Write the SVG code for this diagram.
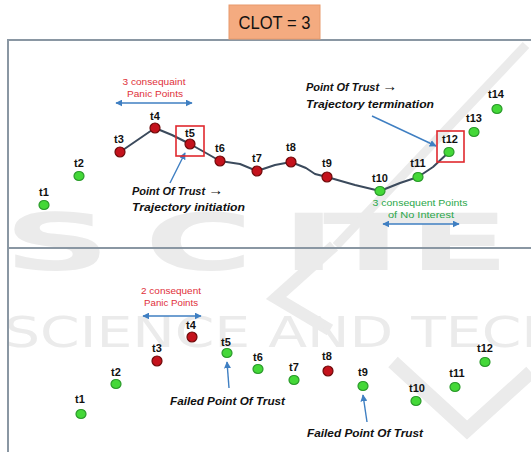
<svg xmlns="http://www.w3.org/2000/svg" width="531" height="452" viewBox="0 0 531 452">
<style>
.lbl{font-family:"Liberation Sans",Arial,sans-serif;font-weight:bold;font-size:11px;fill:#111;text-anchor:middle}
.g{fill:#44d838;stroke:#2a9a2a;stroke-width:1.2}
.r{fill:#c4121c;stroke:#6e0a0a;stroke-width:1.2}
.note{font-family:"Liberation Sans",Arial,sans-serif;font-weight:bold;font-style:italic;font-size:11px;fill:#111}
.arr{font-size:15px;font-style:normal}
.red{font-family:"Liberation Sans",Arial,sans-serif;font-size:9px;fill:#e0303a;text-anchor:middle}
.grn{font-family:"Liberation Sans",Arial,sans-serif;font-size:9px;fill:#2aa84a;text-anchor:middle}
.blue{stroke:#3f7fc2;stroke-width:1.4;fill:none}
.wm{fill:#ebebeb}
.wml{stroke:#ebebeb;fill:none;stroke-linecap:butt;stroke-linejoin:miter}
.frame{stroke:#8a97a3;stroke-width:2;fill:none}
.box{fill:none;stroke:#e0282e;stroke-width:1.6}
</style>
<defs>
<marker id="ah" viewBox="0 0 10 10" refX="9" refY="5" markerWidth="5" markerHeight="5" orient="auto-start-reverse">
<path d="M0,0 L10,5 L0,10 z" fill="#3f7fc2"/>
</marker>
</defs>
<rect width="531" height="452" fill="#ffffff"/>
<g id="watermark">
<text class="wm" transform="scale(1.9,1)" font-family="DejaVu Sans,sans-serif" font-weight="bold" font-size="78" y="270" x="2 76 148 170 215">SCITE</text>
<polyline class="wml" stroke-width="9" points="526,45 336,246"/>
<polyline class="wml" stroke-width="12" points="334,246 276,298 330,330"/>
<polyline class="wml" stroke-width="14" points="393,362 467,430 531,372"/>
<text class="wm" font-family="DejaVu Sans,sans-serif" font-size="42" x="4" y="347" textLength="560" lengthAdjust="spacingAndGlyphs">SCIENCE AND TECH</text>
</g>
<g id="frame">
<line class="frame" x1="8" y1="40" x2="531" y2="40"/>
<line class="frame" x1="8" y1="39" x2="8" y2="452"/>
<line class="frame" x1="8" y1="248" x2="531" y2="248"/>
</g>
<g id="clot">
<rect x="229" y="5" width="91" height="34" fill="#f4ab80" stroke="#e89a6c" stroke-width="1"/>
<text x="274.5" y="29" font-family="Liberation Sans,Arial,sans-serif" font-size="19" fill="#111" text-anchor="middle" textLength="72" lengthAdjust="spacingAndGlyphs">CLOT = 3</text>
</g>
<g id="connectors">
<polyline fill="none" stroke="#3b4a5c" stroke-width="2" stroke-linejoin="round" points="120,152 155,128 172,135 190,144 206,153 220,161 240,164 257,171 275,165 291,162 306,168 315,174 327,177 355,185 380,191 400,183 418,177 433,167 449,152"/>
<line class="blue" x1="116" y1="103" x2="192" y2="103" marker-start="url(#ah)" marker-end="url(#ah)"/>
<line class="blue" x1="383" y1="224" x2="459" y2="224" marker-start="url(#ah)" marker-end="url(#ah)"/>
<line class="blue" x1="143" y1="316" x2="201" y2="316" marker-start="url(#ah)" marker-end="url(#ah)"/>
<line class="blue" x1="170" y1="183" x2="185" y2="153" marker-end="url(#ah)"/>
<line class="blue" x1="372" y1="116" x2="436" y2="146" marker-end="url(#ah)"/>
<line class="blue" x1="229" y1="388" x2="227" y2="362" marker-end="url(#ah)"/>
<line class="blue" x1="367" y1="422" x2="363" y2="395" marker-end="url(#ah)"/>
</g>
<g id="annotations">
<text class="red" x="154" y="85" textLength="63" lengthAdjust="spacingAndGlyphs">3 consequaint</text>
<text class="red" x="155" y="97" textLength="56" lengthAdjust="spacingAndGlyphs">Panic Points</text>
<text class="note" x="132" y="195">Point Of Trust <tspan class="arr">→</tspan></text>
<text class="note" x="132" y="211" textLength="113" lengthAdjust="spacingAndGlyphs">Trajectory initiation</text>
<text class="note" x="306" y="91">Point Of Trust <tspan class="arr">→</tspan></text>
<text class="note" x="306" y="108" textLength="128" lengthAdjust="spacingAndGlyphs">Trajectory termination</text>
<text class="grn" x="420" y="206" textLength="95" lengthAdjust="spacingAndGlyphs">3 consequent Points</text>
<text class="grn" x="421" y="218" textLength="66" lengthAdjust="spacingAndGlyphs">of No Interest</text>
<text class="red" x="171" y="294" textLength="60" lengthAdjust="spacingAndGlyphs">2 consequent</text>
<text class="red" x="171" y="306" textLength="54" lengthAdjust="spacingAndGlyphs">Panic Points</text>
<text class="note" x="170" y="405" textLength="115" lengthAdjust="spacingAndGlyphs">Failed Point Of Trust</text>
<text class="note" x="307" y="437" textLength="116" lengthAdjust="spacingAndGlyphs">Failed Point Of Trust</text>
</g>
<g id="top-t1"><ellipse class="g" cx="44" cy="205" rx="5" ry="4.5"/><text class="lbl" x="44" y="196">t1</text></g>
<g id="top-t2"><ellipse class="g" cx="79" cy="176" rx="5" ry="4.5"/><text class="lbl" x="79" y="167">t2</text></g>
<g id="top-t3"><ellipse class="r" cx="120" cy="152" rx="5" ry="5"/><text class="lbl" x="119" y="143">t3</text></g>
<g id="top-t4"><ellipse class="r" cx="155" cy="128" rx="5" ry="5"/><text class="lbl" x="155" y="120">t4</text></g>
<g id="top-t5"><rect class="box" x="176" y="126" width="28" height="30"/><ellipse class="r" cx="190" cy="144" rx="5" ry="5"/><text class="lbl" x="190" y="137">t5</text></g>
<g id="top-t6"><ellipse class="r" cx="220" cy="161" rx="5" ry="5"/><text class="lbl" x="220" y="152">t6</text></g>
<g id="top-t7"><ellipse class="r" cx="257" cy="171" rx="5" ry="5"/><text class="lbl" x="257" y="162">t7</text></g>
<g id="top-t8"><ellipse class="r" cx="291" cy="162" rx="5" ry="5"/><text class="lbl" x="291" y="151">t8</text></g>
<g id="top-t9"><ellipse class="r" cx="327" cy="177" rx="5" ry="5"/><text class="lbl" x="327" y="167">t9</text></g>
<g id="top-t10"><ellipse class="g" cx="380" cy="191" rx="5" ry="4.5"/><text class="lbl" x="380" y="182">t10</text></g>
<g id="top-t11"><ellipse class="g" cx="418" cy="177" rx="5" ry="4.5"/><text class="lbl" x="418" y="167">t11</text></g>
<g id="top-t12"><rect class="box" x="437" y="131" width="27" height="31"/><ellipse class="g" cx="449" cy="152" rx="5" ry="4.5"/><text class="lbl" x="450" y="143">t12</text></g>
<g id="top-t13"><ellipse class="g" cx="474" cy="132" rx="5" ry="4.5"/><text class="lbl" x="474" y="122">t13</text></g>
<g id="top-t14"><ellipse class="g" cx="497" cy="109" rx="5" ry="4.5"/><text class="lbl" x="496" y="98">t14</text></g>
<g id="bot-t1"><ellipse class="g" cx="81" cy="414" rx="5" ry="4.5"/><text class="lbl" x="80" y="403">t1</text></g>
<g id="bot-t2"><ellipse class="g" cx="116" cy="384" rx="5" ry="4.5"/><text class="lbl" x="116" y="376">t2</text></g>
<g id="bot-t3"><ellipse class="r" cx="157" cy="361" rx="5" ry="5"/><text class="lbl" x="157" y="352">t3</text></g>
<g id="bot-t4"><ellipse class="r" cx="192" cy="337" rx="5" ry="5"/><text class="lbl" x="191" y="329">t4</text></g>
<g id="bot-t5"><ellipse class="g" cx="227" cy="353" rx="5" ry="4.5"/><text class="lbl" x="226" y="346">t5</text></g>
<g id="bot-t6"><ellipse class="g" cx="258" cy="369" rx="5" ry="4.5"/><text class="lbl" x="258" y="361">t6</text></g>
<g id="bot-t7"><ellipse class="g" cx="294" cy="380" rx="5" ry="4.5"/><text class="lbl" x="294" y="371">t7</text></g>
<g id="bot-t8"><ellipse class="r" cx="328" cy="371" rx="5" ry="5"/><text class="lbl" x="327" y="360">t8</text></g>
<g id="bot-t9"><ellipse class="g" cx="363" cy="386" rx="5" ry="4.5"/><text class="lbl" x="363" y="376">t9</text></g>
<g id="bot-t10"><ellipse class="g" cx="416" cy="401" rx="5" ry="4.5"/><text class="lbl" x="417" y="392">t10</text></g>
<g id="bot-t11"><ellipse class="g" cx="455" cy="387" rx="5" ry="4.5"/><text class="lbl" x="457" y="377">t11</text></g>
<g id="bot-t12"><ellipse class="g" cx="485" cy="362" rx="5" ry="4.5"/><text class="lbl" x="485" y="352">t12</text></g>
</svg>
